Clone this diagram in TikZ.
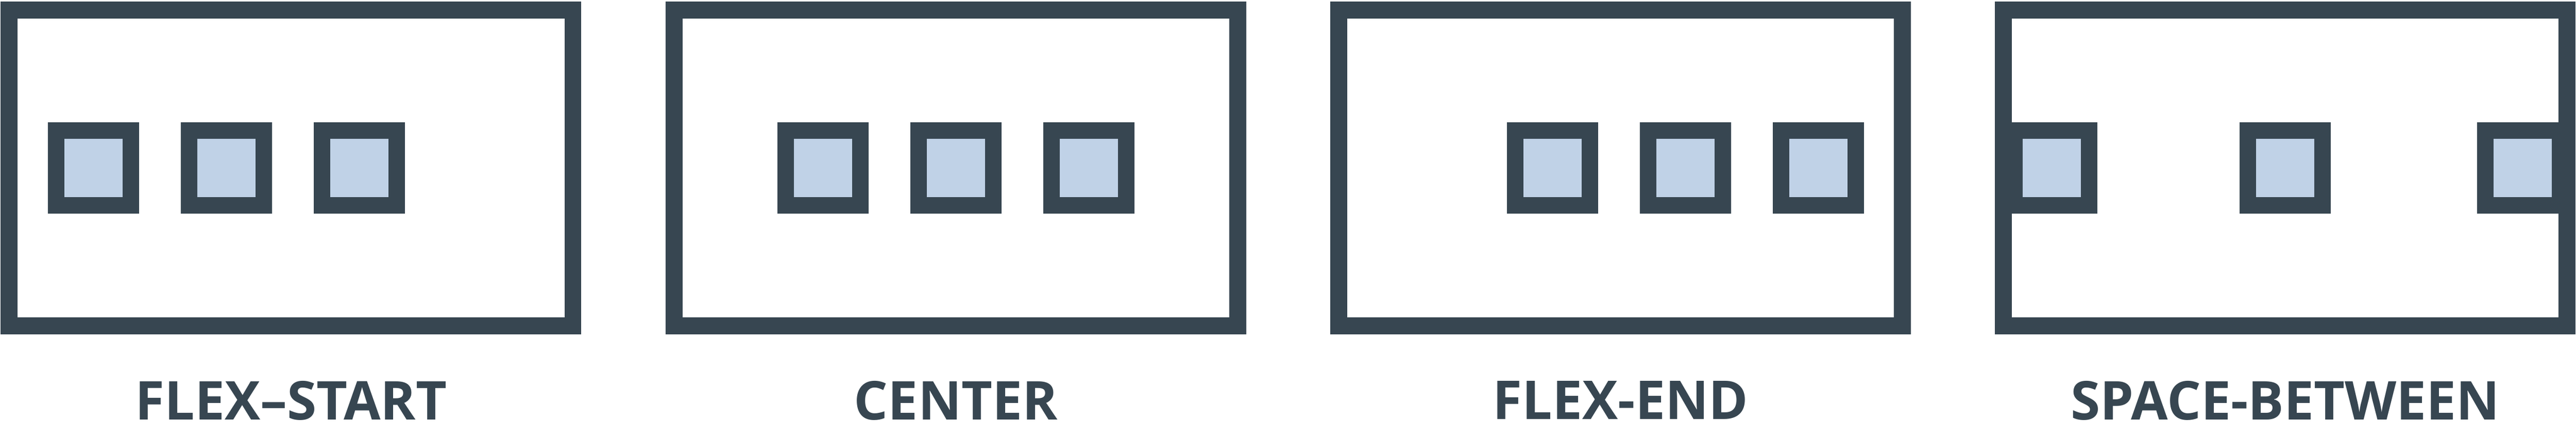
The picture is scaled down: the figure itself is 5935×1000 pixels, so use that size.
\documentclass[tikz,border=0pt]{standalone}
\usepackage{fontspec}
\setsansfont{Open Sans}
\usepackage{xcolor}
\usetikzlibrary{positioning}
\definecolor{slate}{HTML}{374651}
\definecolor{paleblue}{HTML}{C0D2E7}

\begin{document}
\begin{tikzpicture}[
    x=0.01cm, y=-0.01cm,
    every node/.style={inner sep=0},
    container/.style={draw=slate, line width=0.39cm, fill=white,
                      minimum width=12.98cm, minimum height=7.26cm},
    flexitem/.style={draw=slate, line width=0.38cm, fill=paleblue,
                     minimum size=1.72cm},
    flexlabel/.style={text=slate,
                      font=\sffamily\bfseries\fontsize{35}{42}\selectfont}]

    \useasboundingbox (0,0) rectangle (5935,1000);

    \node[container] (boxstart) at (670.5,386.5) {};
    \node[container, right=1.94cm of boxstart] (boxcenter) {};
    \node[container, right=1.935cm of boxcenter] (boxend) {};
    \node[container, right=1.935cm of boxend] (boxbetween) {};

    % flex-start
    \node[flexitem, right=1.09cm of boxstart.west] (s1) {};
    \node[flexitem, right=0.96cm of s1] (s2) {};
    \node[flexitem, right=0.96cm of s2] (s3) {};

    % center
    \node[flexitem] (c2) at (boxcenter) {};
    \node[flexitem, left=0.96cm of c2] (c1) {};
    \node[flexitem, right=0.96cm of c2] (c3) {};

    % flex-end
    \node[flexitem, left=1.08cm of boxend.east] (e3) {};
    \node[flexitem, left=0.96cm of e3] (e2) {};
    \node[flexitem, left=0.96cm of e2] (e1) {};

    % space-between
    \node[flexitem, right=0.26cm of boxbetween.west] (b1) {};
    \node[flexitem] (b2) at (boxbetween) {};
    \node[flexitem, left=0.17cm of boxbetween.east] (b3) {};

    \node[flexlabel, below=1.06cm of boxstart] (lstart) {FLEX–START};
    \node[flexlabel, below=1.06cm of boxcenter] (lcenter) {CENTER};
    \node[flexlabel, below=1.06cm of boxend] (lend) {FLEX-END};
    \node[flexlabel, below=1.06cm of boxbetween] (lbetween) {SPACE-BETWEEN};

\end{tikzpicture}
\end{document}
